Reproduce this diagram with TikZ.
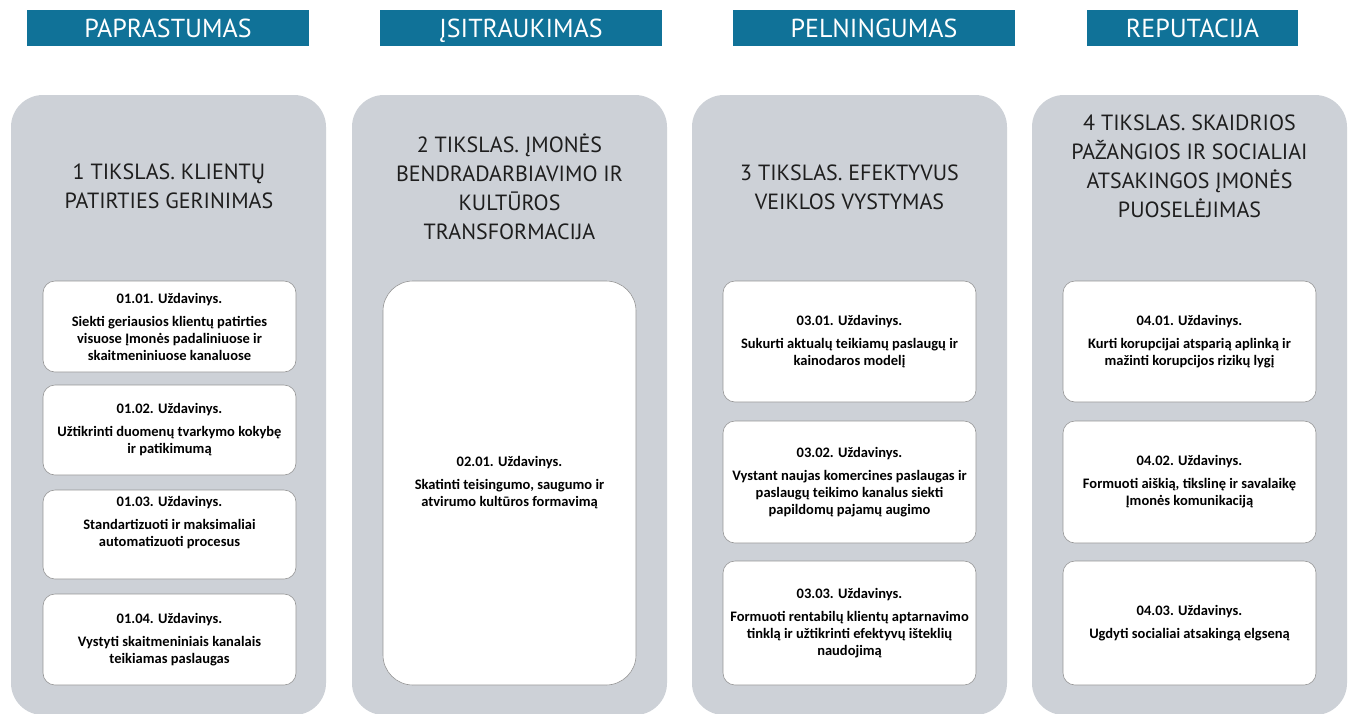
\documentclass[tikz,border=0pt]{standalone}
\usepackage{fontspec}
\setmainfont{PT Sans}
\newfontfamily\taskfont{Carlito}
\usetikzlibrary{shapes}

\definecolor{hdrblue}{RGB}{16,114,152}
\definecolor{panelgray}{RGB}{205,209,215}
\definecolor{boxline}{RGB}{150,150,150}
\definecolor{goalink}{RGB}{30,30,30}

\begin{document}
\begin{tikzpicture}[x=1pt, y=-1pt,
		hdr/.style={rectangle, fill=hdrblue, text=white, minimum height=36pt,
			font=\fontsize{26}{30}\selectfont, inner sep=0pt, text height=18.2pt, text depth=0pt},
		panel/.style={rectangle, rounded corners=32pt, fill=panelgray,
			minimum width=315pt, minimum height=620pt},
		goal/.style={align=center, text=goalink, font=\fontsize{22}{29}\selectfont},
		task/.style={rectangle, rounded corners=12pt, draw=boxline, line width=0.6pt,
			fill=white, minimum width=253pt, align=center, inner sep=2pt,
			font=\taskfont\bfseries\fontsize{14.5}{17}\selectfont}]
		\clip (0, 0) rectangle (1352, 713);
		\fill[white] (0, 0) rectangle (1352, 713);
		% headers
		\path (168, 28) node(h1) [hdr, minimum width=282pt] {PAPRASTUMAS};
		\path (521, 28) node(h2) [hdr, minimum width=282pt] {ĮSITRAUKIMAS};
		\path (874, 28) node(h3) [hdr, minimum width=282pt] {PELNINGUMAS};
		\path (1192.5, 28) node(h4) [hdr, minimum width=211pt] {REPUTACIJA};
		% panels
		\path (168.5, 405) node(p1) [panel] {};
		\path (509.5, 405) node(p2) [panel] {};
		\path (849.5, 405) node(p3) [panel] {};
		\path (1189.5, 405) node(p4) [panel] {};
		% goals
		\path (169, 186) node(g1) [goal] {1 TIKSLAS. KLIENTŲ\\PATIRTIES GERINIMAS};
		\path (509.5, 187) node(g2) [goal] {2 TIKSLAS. ĮMONĖS\\BENDRADARBIAVIMO IR\\KULTŪROS\\TRANSFORMACIJA};
		\path (849.5, 187) node(g3) [goal] {3 TIKSLAS. EFEKTYVUS\\VEIKLOS VYSTYMAS};
		\path (1189.5, 166) node(g4) [goal] {4 TIKSLAS. SKAIDRIOS\\PAŽANGIOS IR SOCIALIAI\\ATSAKINGOS ĮMONĖS\\PUOSELĖJIMAS};
		% tasks
		\path (169.5, 326.5) node(t11) [task, minimum height=91pt] {01.01. Uždavinys.\\[6pt]Siekti geriausios klientų patirties\\visuose Įmonės padaliniuose ir\\skaitmeniniuose kanaluose};
		\path (169.5, 430) node(t12) [task, minimum height=90pt] {01.02. Uždavinys.\\[6pt]Užtikrinti duomenų tvarkymo kokybę\\ir patikimumą};
		\path (169.5, 534.5) node(t13) [task, minimum height=89pt] {01.03. Uždavinys.\\[6pt]Standartizuoti ir maksimaliai\\automatizuoti procesus\\[10pt]\mbox{}};
		\path (169.5, 639.5) node(t14) [task, minimum height=91pt] {01.04. Uždavinys.\\[6pt]Vystyti skaitmeniniais kanalais\\teikiamas paslaugas};
		\path (509.5, 483) node(t21) [task, rounded corners=30pt, minimum height=404pt] {02.01. Uždavinys.\\[6pt]Skatinti teisingumo, saugumo ir\\atvirumo kultūros formavimą};
		\path (849.5, 341.5) node(t31) [task, minimum height=121pt] {03.01. Uždavinys.\\[6pt]Sukurti aktualų teikiamų paslaugų ir\\kainodaros modelį};
		\path (849.5, 482) node(t32) [task, minimum height=122pt] {03.02. Uždavinys.\\[6pt]Vystant naujas komercines paslaugas ir\\paslaugų teikimo kanalus siekti\\papildomų pajamų augimo};
		\path (849.5, 623) node(t33) [task, minimum height=124pt] {03.03. Uždavinys.\\[6pt]Formuoti rentabilų klientų aptarnavimo\\tinklą ir užtikrinti efektyvų išteklių\\naudojimą};
		\path (1189.5, 341.5) node(t41) [task, minimum height=121pt] {04.01. Uždavinys.\\[6pt]Kurti korupcijai atsparią aplinką ir\\mažinti korupcijos rizikų lygį};
		\path (1189.5, 482) node(t42) [task, minimum height=122pt] {04.02. Uždavinys.\\[6pt]Formuoti aiškią, tikslinę ir savalaikę\\Įmonės komunikaciją};
		\path (1189.5, 623) node(t43) [task, minimum height=124pt] {04.03. Uždavinys.\\[6pt]Ugdyti socialiai atsakingą elgseną};
	\end{tikzpicture}
\end{document}
